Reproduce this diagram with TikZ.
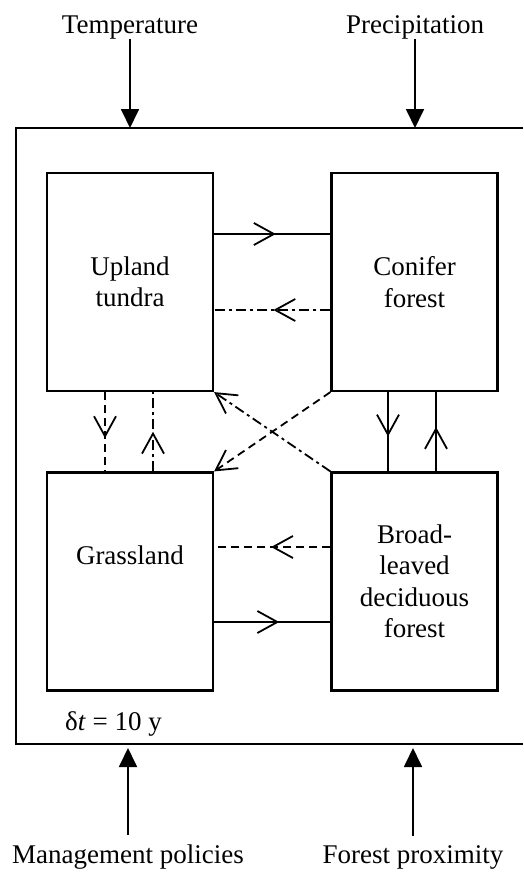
\documentclass[tikz,border=0pt]{standalone}
\usepackage{fontspec}
\setmainfont{Liberation Serif}
\usetikzlibrary{arrows.meta,decorations.markings}

\begin{document}
\begin{tikzpicture}[x=1pt,y=-1pt,
	every node/.style={font=\fontsize{27}{31.5}\selectfont},
	biome/.style={draw,line width=2.2pt,minimum width=166pt,minimum height=218pt,align=center,inner sep=0pt},
	driver/.style={inner sep=0pt},
	input/.style={line width=1.8pt,-{Triangle[length=19pt,width=18pt]}},
	link/.style={line width=1.8pt},
	dashedlink/.style={link,dash pattern=on 8pt off 5pt},
	dashdotlink/.style={link,dash pattern=on 10pt off 4pt on 3pt off 4pt},
	midtip/.style={postaction={decorate},decoration={markings,mark=at position #1 with {\arrow{Straight Barb[length=20pt,width=22pt,line width=1.8pt]}}}},
	endtip/.style={-{Straight Barb[length=20pt,width=22pt,line width=1.8pt]}}]
	\useasboundingbox (0,0) rectangle (523,873);
	
	% system frame
	\coordinate (ftop) at (0,128);
	\coordinate (fbot) at (0,748);
	\draw[line width=1.9pt] (523,128) -- (16,128) -- (16,744) -- (523,744);
	
	% drivers
	\node[driver,anchor=base] (temp) at (130,33) {Temperature};
	\node[driver,anchor=base] (prec) at (415,33) {Precipitation};
	\node[driver,anchor=base] (mgmt) at (128,863) {Management policies};
	\node[driver,anchor=base] (prox) at (413,863) {Forest proximity};
	\node[driver,anchor=base west] (dt) at (65,730) {δ\textit{t} = 10 y};
	
	\draw[input] (temp.south) -- (temp.south |- ftop);
	\draw[input] (prec.south) -- (prec.south |- ftop);
	\draw[input] ([yshift=9pt]mgmt.north) -- (mgmt.north |- fbot);
	\draw[input] ([yshift=9pt]prox.north) -- (prox.north |- fbot);
	
	% vegetation states
	\node[biome] (tundra) at (130,282) {Upland\\tundra};
	\node[biome] (conifer) at (414.5,282) {Conifer\\forest};
	\node[biome] (grass) at (130,581.5) {};
	\node[driver] (grasstext) at ([yshift=26pt]grass.center) {Grassland};
	\node[biome] (broad) at (414.5,581.5) {Broad-\\leaved\\deciduous\\forest};
	
	% transitions
	\draw[link,midtip=0.53] (tundra.east |- 0,234) -- (conifer.west |- 0,234);
	\draw[dashdotlink,midtip=0.49] (conifer.west |- 0,310) -- (tundra.east |- 0,310);
	\draw[dashedlink,midtip=0.51] (broad.west |- 0,547) -- (grass.east |- 0,547);
	\draw[link,midtip=0.56] (grass.east |- 0,622) -- (broad.west |- 0,622);
	
	\draw[dashedlink,midtip=0.58] (tundra.south -| 105,0) -- (grass.north -| 105,0);
	\draw[dashdotlink,midtip=0.5] (grass.north -| 153,0) -- (tundra.south -| 153,0);
	\draw[link,midtip=0.56] (conifer.south -| 388,0) -- (broad.north -| 388,0);
	\draw[link,midtip=0.56] (broad.north -| 436,0) -- (conifer.south -| 436,0);
	
	\draw[dashedlink,endtip] (conifer.south west) -- (grass.north east);
	\draw[dashdotlink,endtip] (broad.north west) -- (tundra.south east);
\end{tikzpicture}
\end{document}
